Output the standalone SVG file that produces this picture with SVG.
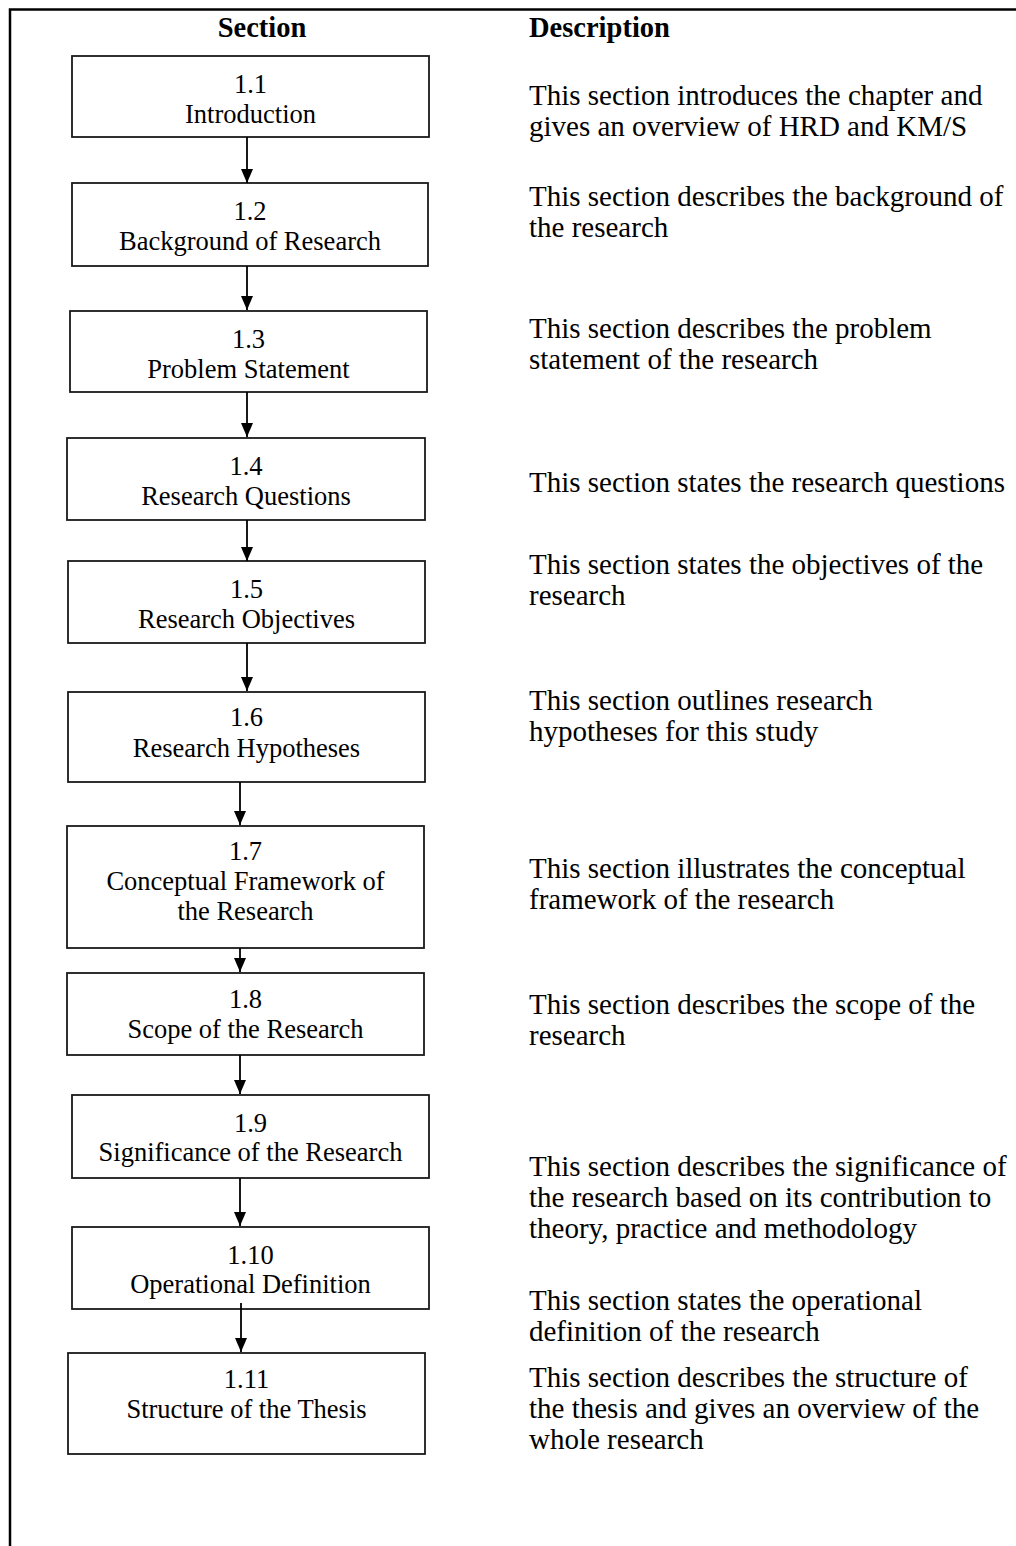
<svg xmlns="http://www.w3.org/2000/svg" width="1016" height="1546" viewBox="0 0 1016 1546">
<defs>
<style>
.frame{fill:none;stroke:#000;stroke-width:2.5}
.box{fill:#fff;stroke:#1a1a1a;stroke-width:1.8}
.bt{font-family:"Liberation Serif","Times New Roman",serif;font-size:26.5px;fill:#000;text-anchor:middle}
.dt{font-family:"Liberation Serif","Times New Roman",serif;font-size:29px;fill:#000}
.hd{font-family:"Liberation Serif","Times New Roman",serif;font-size:28.5px;font-weight:bold;fill:#000}
.cn{fill:none;stroke:#000;stroke-width:1.8}
</style>
<marker id="ah" viewBox="0 0 14 12" refX="14" refY="6" markerWidth="14" markerHeight="12" markerUnits="userSpaceOnUse" orient="auto">
<path d="M0,0 L14,6 L0,12 z" fill="#000"/>
</marker>
</defs>
<rect width="1016" height="1546" fill="#fff"/>
<path class="frame" d="M10,1546 L10,9.5 L1016,9.5"/>
<g id="headers">
<text class="hd" x="262" y="37" text-anchor="middle">Section</text>
<text class="hd" x="529" y="37">Description</text>
</g>
<g id="n1_1">
<rect class="box" x="72" y="56" width="357" height="81"/>
<text class="bt" x="250.5" y="93">1.1</text>
<text class="bt" x="250.5" y="123">Introduction</text>
</g>
<g id="n1_2">
<rect class="box" x="72" y="183" width="356" height="83"/>
<text class="bt" x="250" y="220">1.2</text>
<text class="bt" x="250" y="250">Background of Research</text>
</g>
<g id="n1_3">
<rect class="box" x="70" y="311" width="357" height="81"/>
<text class="bt" x="248.5" y="348">1.3</text>
<text class="bt" x="248.5" y="378">Problem Statement</text>
</g>
<g id="n1_4">
<rect class="box" x="67" y="438" width="358" height="82"/>
<text class="bt" x="246" y="475">1.4</text>
<text class="bt" x="246" y="505">Research Questions</text>
</g>
<g id="n1_5">
<rect class="box" x="68" y="561" width="357" height="82"/>
<text class="bt" x="246.5" y="598">1.5</text>
<text class="bt" x="246.5" y="628">Research Objectives</text>
</g>
<g id="n1_6">
<rect class="box" x="68" y="692" width="357" height="90"/>
<text class="bt" x="246.5" y="726">1.6</text>
<text class="bt" x="246.5" y="757">Research Hypotheses</text>
</g>
<g id="n1_7">
<rect class="box" x="67" y="826" width="357" height="122"/>
<text class="bt" x="245.5" y="860">1.7</text>
<text class="bt" x="245.5" y="890">Conceptual Framework of</text>
<text class="bt" x="245.5" y="920">the Research</text>
</g>
<g id="n1_8">
<rect class="box" x="67" y="973" width="357" height="82"/>
<text class="bt" x="245.5" y="1008">1.8</text>
<text class="bt" x="245.5" y="1038">Scope of the Research</text>
</g>
<g id="n1_9">
<rect class="box" x="72" y="1095" width="357" height="83"/>
<text class="bt" x="250.5" y="1132">1.9</text>
<text class="bt" x="250.5" y="1161">Significance of the Research</text>
</g>
<g id="n1_10">
<rect class="box" x="72" y="1227" width="357" height="82"/>
<text class="bt" x="250.5" y="1264">1.10</text>
<text class="bt" x="250.5" y="1293">Operational Definition</text>
</g>
<g id="n1_11">
<rect class="box" x="68" y="1353" width="357" height="101"/>
<text class="bt" x="246.5" y="1388">1.11</text>
<text class="bt" x="246.5" y="1418">Structure of the Thesis</text>
</g>
<g id="connectors">
<line class="cn" x1="247" y1="137" x2="247" y2="183" marker-end="url(#ah)"/>
<line class="cn" x1="247" y1="266" x2="247" y2="310" marker-end="url(#ah)"/>
<line class="cn" x1="247" y1="392" x2="247" y2="437" marker-end="url(#ah)"/>
<line class="cn" x1="247" y1="520" x2="247" y2="561" marker-end="url(#ah)"/>
<line class="cn" x1="247" y1="643" x2="247" y2="691" marker-end="url(#ah)"/>
<line class="cn" x1="240" y1="782" x2="240" y2="825" marker-end="url(#ah)"/>
<line class="cn" x1="240" y1="948" x2="240" y2="972" marker-end="url(#ah)"/>
<line class="cn" x1="240" y1="1055" x2="240" y2="1094" marker-end="url(#ah)"/>
<line class="cn" x1="240" y1="1178" x2="240" y2="1226" marker-end="url(#ah)"/>
<line class="cn" x1="241" y1="1303" x2="241" y2="1352" marker-end="url(#ah)"/>
</g>
<g id="descriptions">
<text class="dt" x="529" y="105">This section introduces the chapter and</text>
<text class="dt" x="529" y="136">gives an overview of HRD and KM/S</text>
<text class="dt" x="529" y="206">This section describes the background of</text>
<text class="dt" x="529" y="237">the research</text>
<text class="dt" x="529" y="338">This section describes the problem</text>
<text class="dt" x="529" y="369">statement of the research</text>
<text class="dt" x="529" y="492">This section states the research questions</text>
<text class="dt" x="529" y="574">This section states the objectives of the</text>
<text class="dt" x="529" y="605">research</text>
<text class="dt" x="529" y="710">This section outlines research</text>
<text class="dt" x="529" y="741">hypotheses for this study</text>
<text class="dt" x="529" y="878">This section illustrates the conceptual</text>
<text class="dt" x="529" y="909">framework of the research</text>
<text class="dt" x="529" y="1014">This section describes the scope of the</text>
<text class="dt" x="529" y="1045">research</text>
<text class="dt" x="529" y="1176">This section describes the significance of</text>
<text class="dt" x="529" y="1207">the research based on its contribution to</text>
<text class="dt" x="529" y="1238">theory, practice and methodology</text>
<text class="dt" x="529" y="1310">This section states the operational</text>
<text class="dt" x="529" y="1341">definition of the research</text>
<text class="dt" x="529" y="1387">This section describes the structure of</text>
<text class="dt" x="529" y="1418">the thesis and gives an overview of the</text>
<text class="dt" x="529" y="1449">whole research</text>
</g>
</svg>
